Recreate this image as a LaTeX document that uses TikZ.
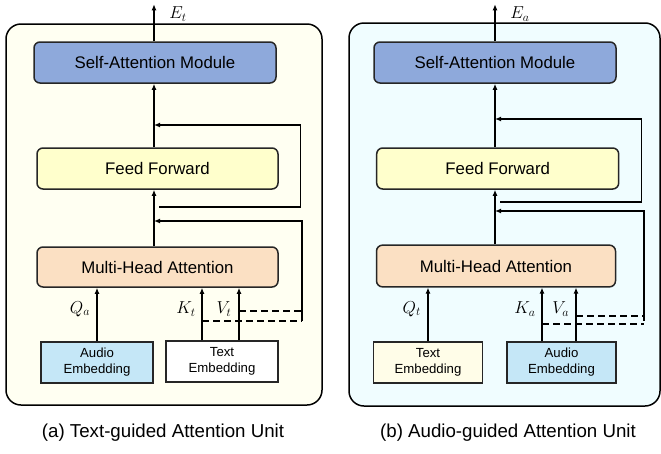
\documentclass[tikz,border=0pt]{standalone}
\usepackage{fontspec}
\setmainfont{Liberation Sans}
\usepackage{xcolor}
\usetikzlibrary{positioning,calc,arrows.meta}

\definecolor{bgText}{HTML}{FFFFF2}
\definecolor{bgAudio}{HTML}{F0FDFF}
\definecolor{saBlue}{HTML}{8EA9DB}
\definecolor{ffYellow}{HTML}{FFFFCC}
\definecolor{mhaPeach}{HTML}{FBE0C3}
\definecolor{audBlue}{HTML}{C5E7F7}
\definecolor{txtCream}{HTML}{FFFDE8}

\begin{document}
\begin{tikzpicture}[x=1pt, y=-1pt, line width=1.5pt,
    block/.style={draw=black!85, rounded corners=6pt, minimum height=41pt, inner sep=0pt, font=\fontsize{16.8}{20}\selectfont},
    embed/.style={draw=black!85, minimum height=41pt, inner sep=0pt, align=center, font=\fontsize{13.2}{16}\selectfont},
    arr/.style={-{Latex[length=6pt,width=5pt]}},
    resdash/.style={dashed, dash pattern=on 7pt off 4pt},
    lbl/.style={font=\fontsize{17}{20}\selectfont},
    caption/.style={font=\fontsize{18.7}{22}\selectfont}]
    \useasboundingbox (0,0) rectangle (661,453);

    % Panels
    \draw[fill=bgText, rounded corners=15pt] (6,24) rectangle (322,405);
    \draw[fill=bgAudio, rounded corners=15pt] (349,23) rectangle (660,406);

    % (a) Text-guided unit
    \node[block, fill=saBlue, minimum width=242pt] (saA) at (155,62.5) {Self-Attention Module};
    \node[block, fill=ffYellow, minimum width=241pt] (ffA) at (157.5,168.5) {Feed Forward};
    \node[block, fill=mhaPeach, minimum width=241pt, minimum height=40pt] (mhaA) at (157.5,267) {Multi-Head Attention};
    \node[embed, fill=audBlue, minimum width=112pt] (audA) at (97,362.5) {Audio\\Embedding};
    \node[embed, fill=white, minimum width=112pt] (txtA) at (222,361.5) {Text\\Embedding};
    \coordinate (axA) at (154,0);
    \coordinate (kA) at (202,321);
    \coordinate (vA) at (239,311);
    \coordinate (br1A) at (159,207);
    \coordinate (res1A) at (300.5,125);
    \coordinate (res2A) at (302,221);

    \draw[arr] (saA.north -| axA) -- ++(0,-37) coordinate (outA);
    \node[lbl] (eA) at (178,14) {$E_t$};
    \draw[arr] (ffA.north -| axA) -- (saA.south -| axA);
    \draw[arr] (mhaA.north -| axA) -- (ffA.south -| axA);
    \draw[arr] (br1A) -| (res1A) -- (res1A -| axA);
    \draw[arr] (kA -| res2A) -- (res2A) -- (res2A -| axA);
    \draw[resdash] (vA) -- (vA -| res2A);
    \draw[resdash] (kA) -- (kA -| res2A);
    \draw[arr] (audA.north) -- (audA.north |- mhaA.south);
    \draw[arr] (txtA.north -| kA) -- (mhaA.south -| kA);
    \draw[arr] (txtA.north -| vA) -- (mhaA.south -| vA);
    \node[lbl] (qlA) at (80,309) {$Q_a$};
    \node[lbl] (klA) at (186,309) {$K_t$};
    \node[lbl] (vlA) at (224,309) {$V_t$};
    \node[caption] (capA) at (163,433) {(a) Text-guided Attention Unit};

    % (b) Audio-guided unit
    \node[block, fill=saBlue, minimum width=242pt] (saB) at (495,62.5) {Self-Attention Module};
    \node[block, fill=ffYellow, minimum width=242pt] (ffB) at (497.7,168.5) {Feed Forward};
    \node[block, fill=mhaPeach, minimum width=239pt, minimum height=41.7pt] (mhaB) at (496,266) {Multi-Head Attention};
    \node[embed, fill=txtCream, minimum width=108.7pt] (txtB) at (428,362.3) {Text\\Embedding};
    \node[embed, fill=audBlue, minimum width=109pt] (audB) at (561.5,362.3) {Audio\\Embedding};
    \coordinate (axB) at (495,0);
    \coordinate (kB) at (542,324);
    \coordinate (vB) at (576,316);
    \coordinate (br1B) at (500,202);
    \coordinate (res1B) at (641.7,119);
    \coordinate (res2B) at (644,211);

    \draw[arr] (saB.north -| axB) -- ++(0,-37) coordinate (outB);
    \node[lbl] (eB) at (520,14) {$E_a$};
    \draw[arr] (ffB.north -| axB) -- (saB.south -| axB);
    \draw[arr] (mhaB.north -| axB) -- (ffB.south -| axB);
    \draw[arr] (br1B) -| (res1B) -- (res1B -| axB);
    \draw[arr] ([yshift=3pt]kB -| res2B) -- (res2B) -- (res2B -| axB);
    \draw[resdash] (vB) -- (vB -| res2B);
    \draw[resdash] (kB) -- (kB -| res2B);
    \draw[arr] (txtB.north) -- (txtB.north |- mhaB.south);
    \draw[arr] (audB.north -| kB) -- (mhaB.south -| kB);
    \draw[arr] (audB.north -| vB) -- (mhaB.south -| vB);
    \node[lbl] (qlB) at (411.7,309) {$Q_t$};
    \node[lbl] (klB) at (525,309) {$K_a$};
    \node[lbl] (vlB) at (560.7,309) {$V_a$};
    \node[caption] (capB) at (508,433) {(b) Audio-guided Attention Unit};
\end{tikzpicture}
\end{document}
